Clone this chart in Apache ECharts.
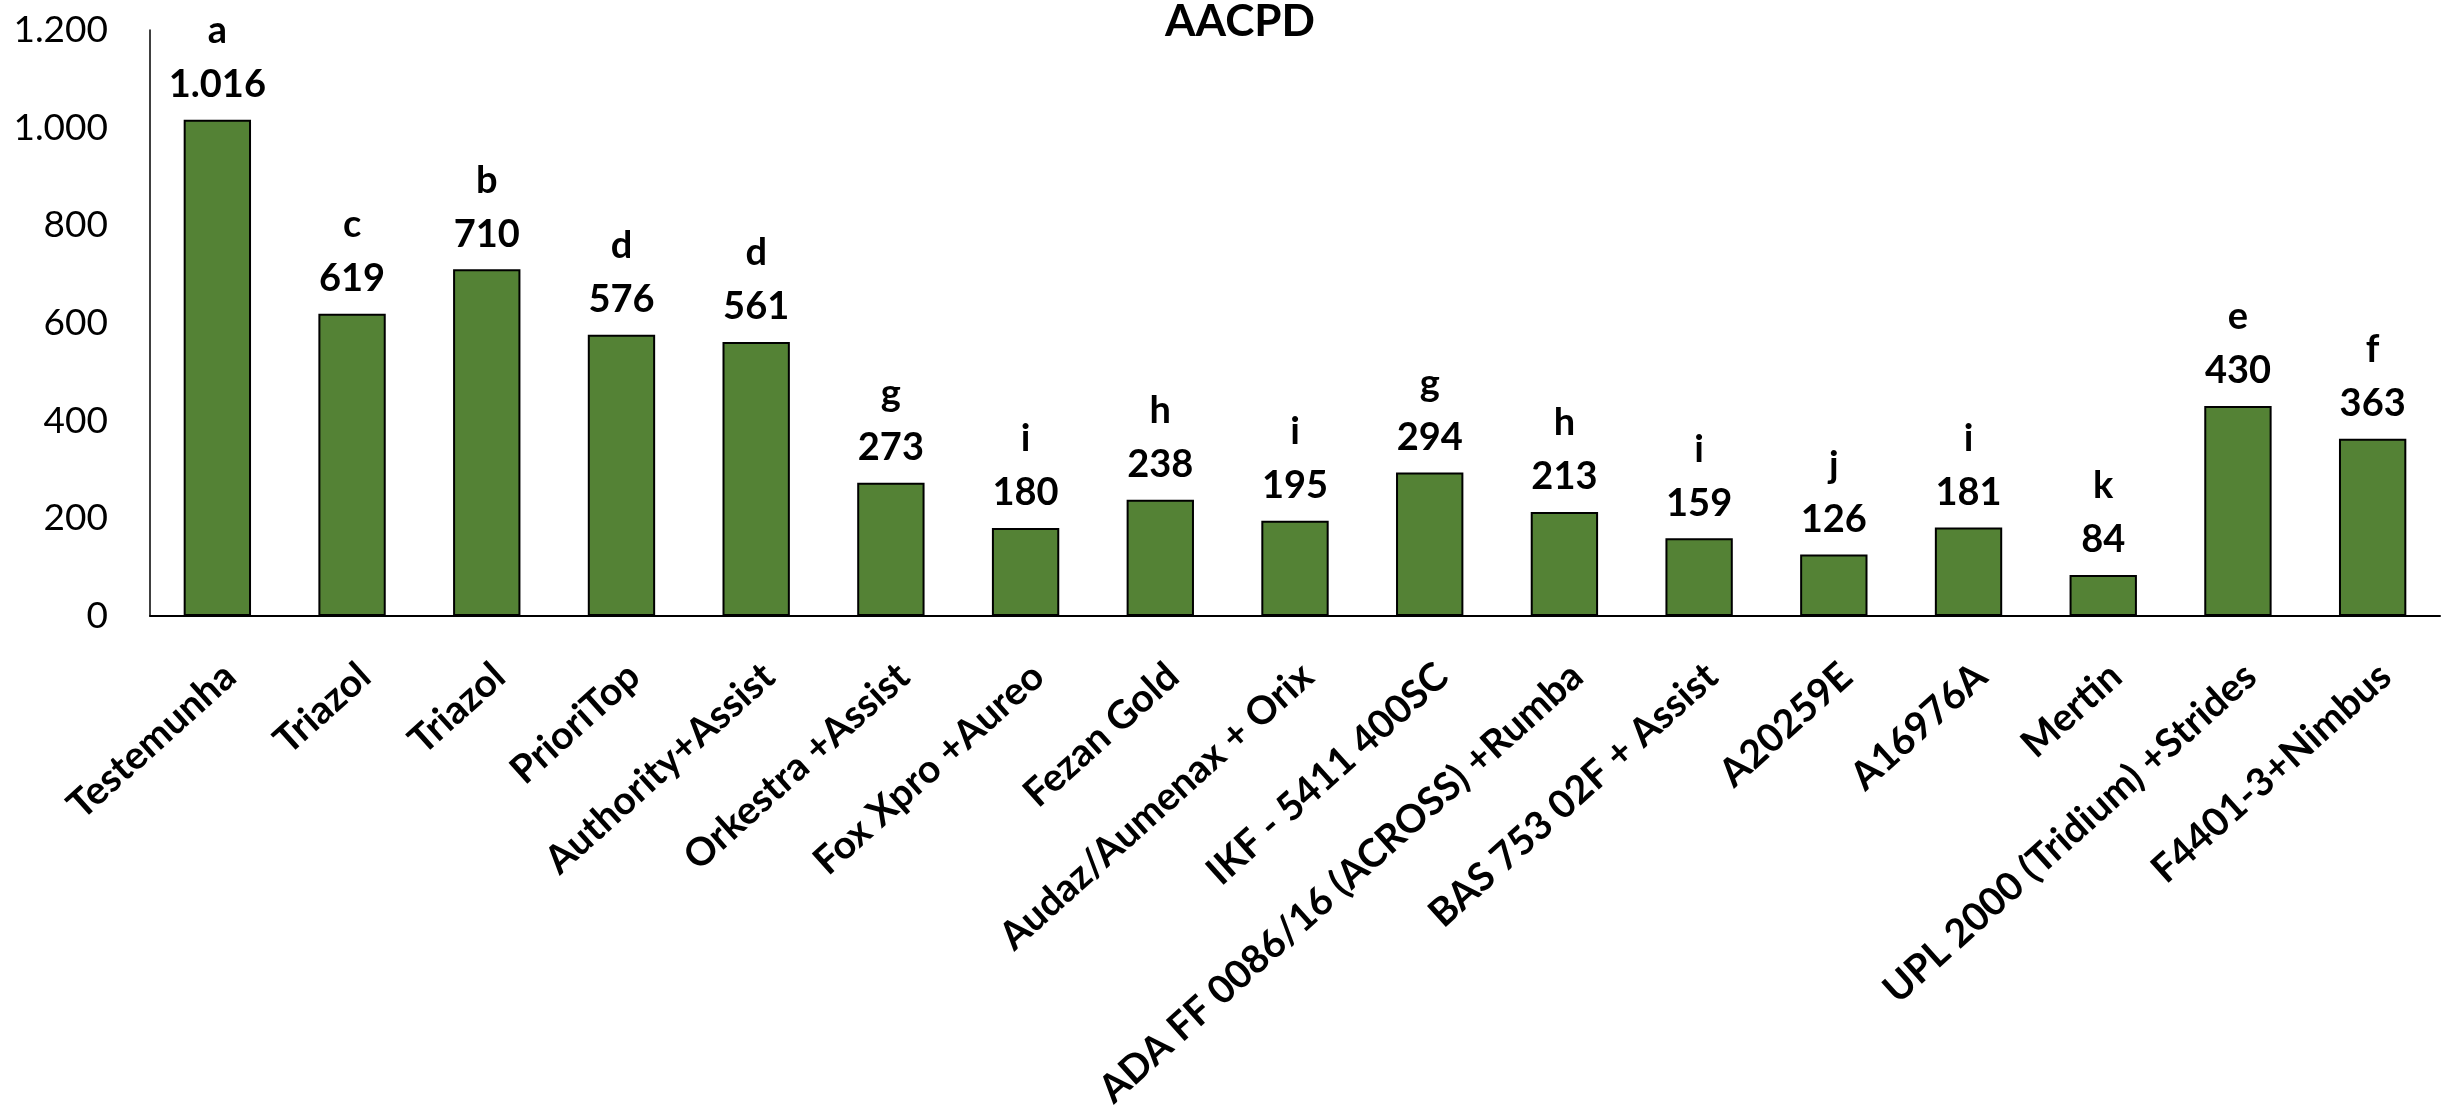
<!DOCTYPE html>
<html>
<head>
<meta charset="utf-8">
<script src="https://cdn.jsdelivr.net/npm/echarts@6/dist/echarts.min.js"></script>
<style>
html,body{margin:0;padding:0;background:#fff;}
#chart{width:2454px;height:1109px;}
</style>
</head>
<body>
<div id="chart"></div>
<script>
const title = 'AACPD';
const categories = ['Testemunha','Triazol','Triazol','PrioriTop','Authority+Assist','Orkestra +Assist','Fox Xpro +Aureo','Fezan Gold','Audaz/Aumenax + Orix','IKF - 5411 400SC','ADA FF 0086/16 (ACROSS) +Rumba','BAS 753 02F + Assist','A20259E','A16976A','Mertin','UPL 2000 (Tridium) +Strides','F4401-3+Nimbus'];
const values = [1016, 619, 710, 576, 561, 273, 180, 238, 195, 294, 213, 159, 126, 181, 84, 430, 363];
const letters = ['a','c','b','d','d','g','i','h','i','g','h','i','j','i','k','e','f'];
const yTicks = [0, 200, 400, 600, 800, 1000, 1200];

function fmt(v){ return String(v).replace(/\B(?=(\d{3})+(?!\d))/g, '.'); }

const FONT = 'Lato, "Open Sans", sans-serif';
const chart = echarts.init(document.getElementById('chart'));
chart.setOption({
  animation: false,
  backgroundColor: '#ffffff',
  title: {
    text: title, left: 1240, top: 0, textAlign: 'center', padding: 0,
    textStyle: { fontFamily: FONT, fontSize: 44, fontWeight: 'bold', color: '#000' }
  },
  grid: { left: 150, right: 14, top: 30, bottom: 493, containLabel: false, outerBoundsMode: 'none' },
  xAxis: {
    type: 'category', data: categories,
    axisLine: { lineStyle: { color: '#000', width: 2 } },
    axisTick: { show: false },
    axisLabel: {
      interval: 0, rotate: 42, margin: 66, padding: [0, -17, 0, 0],
      fontFamily: FONT, fontSize: 39, fontWeight: 'bold', color: '#000'
    }
  },
  yAxis: {
    type: 'value', min: yTicks[0], max: yTicks[yTicks.length - 1], interval: 200,
    axisLine: { show: true, lineStyle: { color: '#000', width: 1.5 } },
    axisTick: { show: false },
    splitLine: { show: false },
    axisLabel: {
      margin: 42, fontFamily: FONT, fontSize: 37, color: '#000',
      formatter: v => fmt(v)
    }
  },
  series: [{
    type: 'bar', data: values, barCategoryGap: '50%',
    itemStyle: { color: '#548235', borderColor: '#000', borderWidth: 2 },
    label: {
      show: true, position: 'top', distance: 8,
      formatter: p => '{l|' + letters[p.dataIndex] + '}\n{v|' + fmt(p.value) + '}',
      rich: {
        l: { fontFamily: FONT, fontSize: 38, fontWeight: 'bold', color: '#000', lineHeight: 54 },
        v: { fontFamily: FONT, fontSize: 38, fontWeight: 'bold', color: '#000', lineHeight: 54 }
      }
    }
  }]
});
</script>
</body>
</html>
